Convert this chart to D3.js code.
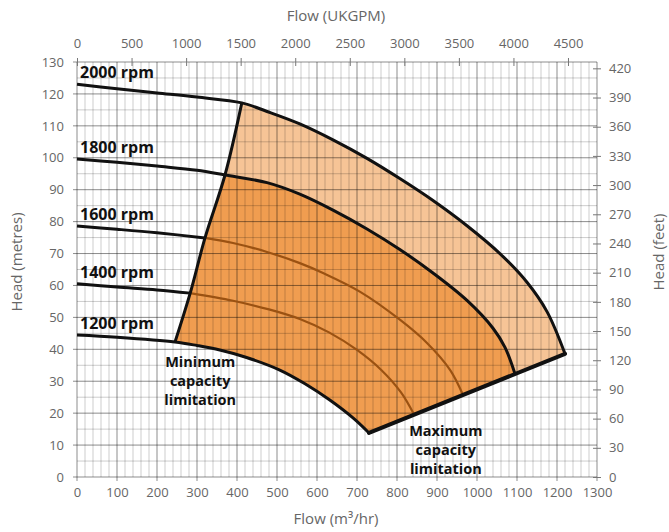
<!DOCTYPE html>
<html>
<head>
<meta charset="utf-8">
<script src="https://cdn.jsdelivr.net/npm/d3@7"></script>
<style>
  html, body { margin: 0; padding: 0; background: #fff; }
  svg { display: block; font-family: "Open Sans", "Noto Sans", sans-serif; }
</style>
</head>
<body>
<svg id="chart" width="669" height="532"></svg>
<script>
// Axis ticks
const flowTicks = [0, 100, 200, 300, 400, 500, 600, 700, 800, 900, 1000, 1100, 1200, 1300];
const headTicks = [0, 10, 20, 30, 40, 50, 60, 70, 80, 90, 100, 110, 120, 130];
const feetTicks = [0, 30, 60, 90, 120, 150, 180, 210, 240, 270, 300, 330, 360, 390, 420];
const ukgpmTicks = [0, 500, 1000, 1500, 2000, 2500, 3000, 3500, 4000, 4500];

// Unit conversions for the secondary axes
const ukgpmPerM3h = 3.666;
const feetPerMetre = 3.2808;

// Pump curves: flow (m³/hr) and head (metres); minFlow = where each meets the minimum capacity line
const rpmNames = ["2000 rpm", "1800 rpm", "1600 rpm", "1400 rpm", "1200 rpm"];
const flow2000 = [0, 100, 200, 300, 412, 475, 557, 640, 725, 808, 890, 975, 1058, 1125, 1175, 1220];
const head2000 = [123, 121.6, 120.3, 119, 117.2, 114.5, 110.6, 105.6, 99.8, 93.4, 86.6, 78.7, 69.9, 61, 51.8, 38.6];
const flow1800 = [0, 100, 200, 300, 370, 475, 557, 640, 725, 808, 890, 975, 1040, 1070, 1095];
const head1800 = [99.6, 98.6, 97.4, 96.1, 94.6, 92.2, 88.6, 83.6, 77.7, 71.2, 63.9, 55.3, 46.6, 40.6, 32.3];
const flow1600 = [0, 100, 200, 320, 390, 475, 557, 615, 708, 808, 875, 933, 965];
const head1600 = [78.6, 77.6, 76.5, 74.9, 73.3, 70.5, 67, 63.9, 58, 49.2, 42, 33.5, 25.7];
const flow1400 = [0, 100, 200, 283, 390, 480, 557, 630, 700, 760, 810, 843];
const head1400 = [60.5, 59.5, 58.6, 57.6, 55.2, 52.5, 49.5, 45.3, 39.8, 33.6, 26.5, 19.5];
const flow1200 = [0, 100, 245, 300, 357, 420, 507, 570, 632, 690, 730];
const head1200 = [44.5, 43.8, 42.3, 41.2, 39.8, 37.6, 33.5, 29.2, 24.1, 18.5, 13.8];
const minFlow = [412, 370, 320, 283, 245];

// Operating limits
const minCapFlow = [245, 283, 320, 370, 412];
const minCapHead = [42.3, 57.6, 74.9, 94.6, 117.2];
const maxCapFlow = [730, 1220];
const maxCapHead = [13.8, 38.6];

const zip = (xs, ys) => xs.map((v, i) => [v, ys[i]]);
const curves = [
  zip(flow2000, head2000), zip(flow1800, head1800), zip(flow1600, head1600),
  zip(flow1400, head1400), zip(flow1200, head1200)
];
const minCap = zip(minCapFlow, minCapHead);
const maxCap = zip(maxCapFlow, maxCapHead);

const svg = d3.select("#chart");
const plotL = 77, plotR = 597, plotT = 62, plotB = 477;

const x = d3.scaleLinear().domain([0, 1300]).range([plotL, plotR]);
const y = d3.scaleLinear().domain([0, 130]).range([plotB, plotT]);
const xTop = d3.scaleLinear().domain([0, 1300 * ukgpmPerM3h]).range([plotL, plotR]);
const yFeet = d3.scaleLinear().domain([0, 130 * feetPerMetre]).range([plotB, plotT]);

const smooth = d3.line().x(d => x(d[0])).y(d => y(d[1])).curve(d3.curveCatmullRom.alpha(0.5));

// Joins several smoothed pieces into one closed outline
function outline(pieces) {
  return pieces.map((p, i) => {
    const s = smooth(p);
    return i === 0 ? s : s.replace(/^M/, "L");
  }).join("") + "Z";
}

const inner = (pts, f0) => pts.filter(d => d[0] >= f0);
const outer = (pts, f0) => pts.filter(d => d[0] <= f0);

// Operating envelope fills
const c1200in = inner(curves[4], minFlow[4]);
svg.append("path")
  .attr("d", outline([
    inner(curves[0], minFlow[0]),
    maxCap.slice().reverse(),
    c1200in.slice().reverse(),
    minCap
  ]))
  .attr("fill", "#f6c496");
svg.append("path")
  .attr("d", outline([
    inner(curves[1], minFlow[1]),
    [maxCap[0]],
    c1200in.slice().reverse(),
    minCap.filter(d => d[0] <= minFlow[1])
  ]))
  .attr("fill", "#f09d50");

// Grid
const grid = svg.append("g");
d3.range(0, 1301, 20).forEach(v => {
  const major = v % 100 === 0;
  grid.append("line")
    .attr("x1", x(v)).attr("x2", x(v))
    .attr("y1", plotT).attr("y2", plotB + (major ? 4 : 0))
    .attr("stroke", major ? "rgba(0,0,0,0.45)" : "rgba(0,0,0,0.2)")
    .attr("stroke-width", 1);
});
d3.range(0, 131, 5).forEach(v => {
  const major = v % 10 === 0;
  grid.append("line")
    .attr("x1", plotL - (major ? 4 : 0)).attr("x2", plotR)
    .attr("y1", y(v)).attr("y2", y(v))
    .attr("stroke", major ? "rgba(0,0,0,0.45)" : "rgba(0,0,0,0.2)")
    .attr("stroke-width", 1);
});

// Axes
const plain = d3.format("d");
const tickFont = g => g.selectAll("text")
  .attr("fill", "#666").attr("font-size", 13).attr("font-family", "'Open Sans', sans-serif");

const gBottom = svg.append("g").attr("transform", `translate(0,${plotB})`)
  .call(d3.axisBottom(x).tickValues(flowTicks).tickFormat(plain).tickSize(0).tickPadding(11));
gBottom.select(".domain").remove();
gBottom.call(tickFont);

const gLeft = svg.append("g").attr("transform", `translate(${plotL},0)`)
  .call(d3.axisLeft(y).tickValues(headTicks).tickFormat(plain).tickSize(0).tickPadding(13));
gLeft.select(".domain").remove();
gLeft.call(tickFont);

const gTop = svg.append("g").attr("transform", `translate(0,${plotT})`)
  .call(d3.axisTop(xTop).tickValues(ukgpmTicks).tickFormat(plain).tickSize(4).tickPadding(10));
gTop.select(".domain").remove();
gTop.selectAll(".tick line").attr("y1", 4).attr("y2", -4).attr("stroke", "#777");
gTop.call(tickFont);

const gRight = svg.append("g").attr("transform", `translate(${plotR},0)`)
  .call(d3.axisRight(yFeet).tickValues(feetTicks).tickFormat(plain).tickSize(4).tickPadding(8));
gRight.select(".domain").remove();
gRight.selectAll(".tick line").attr("x1", -4).attr("x2", 4).attr("stroke", "#777");
gRight.call(tickFont);

// Axis titles
const title = (t, tx, ty, rot) => svg.append("text")
  .attr("transform", `translate(${tx},${ty}) rotate(${rot})`)
  .attr("text-anchor", "middle").attr("dominant-baseline", "middle")
  .attr("fill", "#666").attr("font-size", 15).text(t);
title("Flow (UKGPM)", 336, 17, 0);
title("Flow (m³/hr)", 336, 520, 0);
title("Head (metres)", 18, 262, -90);
title("Head (feet)", 660, 252, -90);

// Pump curves
curves.forEach((pts, i) => {
  const f0 = minFlow[i];
  const insideColoured = i === 2 || i === 3;
  svg.append("path").attr("d", smooth(insideColoured ? outer(pts, f0) : pts))
    .attr("fill", "none").attr("stroke", "#111").attr("stroke-width", 3)
    .attr("stroke-linejoin", "round");
  if (insideColoured) {
    svg.append("path").attr("d", smooth(inner(pts, f0)))
      .attr("fill", "none").attr("stroke", "#9b5212").attr("stroke-width", 2.2);
  }
});

// Capacity limits
svg.append("path").attr("d", smooth(minCap))
  .attr("fill", "none").attr("stroke", "#111").attr("stroke-width", 3).attr("stroke-linejoin", "round");
svg.append("path").attr("d", smooth(maxCap))
  .attr("fill", "none").attr("stroke", "#111").attr("stroke-width", 4).attr("stroke-linecap", "round");

// Speed labels
curves.forEach((pts, i) => {
  svg.append("text")
    .attr("x", x(0) + 3).attr("y", y(pts[0][1]) - 6)
    .attr("font-size", 16).attr("font-weight", 700).attr("fill", "#111")
    .text(rpmNames[i]);
});

// Limit annotations
const note = (lines, fx, hy) => {
  const t = svg.append("text").attr("text-anchor", "middle")
    .attr("font-size", 14.5).attr("font-weight", 700).attr("fill", "#111");
  lines.forEach((s, k) => t.append("tspan").attr("x", x(fx)).attr("y", y(hy) + k * 19).text(s));
};
note(["Minimum", "capacity", "limitation"], 308, 34.5);
note(["Maximum", "capacity", "limitation"], 922, 12.8);
</script>
</body>
</html>
